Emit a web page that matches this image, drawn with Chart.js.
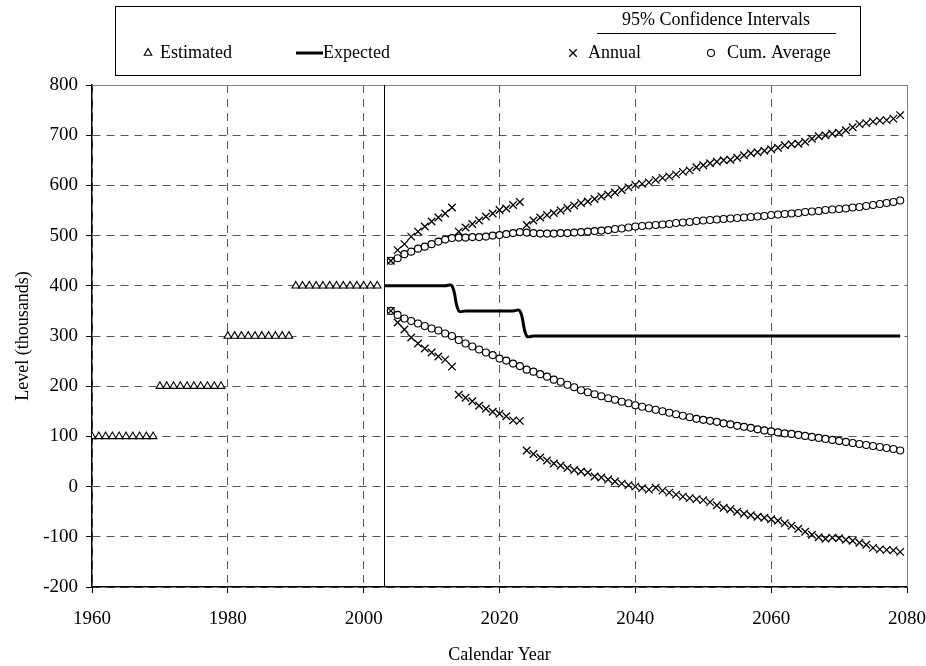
<!DOCTYPE html>
<html>
<head>
<meta charset="utf-8">
<title>Level projection</title>
<script src="https://cdn.jsdelivr.net/npm/chart.js@4.4.0/dist/chart.umd.min.js"></script>
<style>
  html, body { margin: 0; padding: 0; background: #fff; }
  #chart { display: block; }
</style>
</head>
<body>
<canvas id="chart" width="926" height="666"></canvas>
<script>
// ── Data (values in thousands) ──

var estStart  = 1960;
var estValues = [100, 100, 100, 100, 100, 100, 100, 100, 100, 100,
                 200, 200, 200, 200, 200, 200, 200, 200, 200, 200,
                 300, 300, 300, 300, 300, 300, 300, 300, 300, 300,
                 400, 400, 400, 400, 400, 400, 400, 400, 400, 400, 400, 400, 400];

var expStart  = 2003;
var expValues = [400, 400, 400, 400, 400, 400, 400, 400, 400, 400, 400,
                 350, 350, 350, 350, 350, 350, 350, 350, 350, 350,
                 300, 300, 300, 300, 300, 300, 300, 300, 300, 300,
                 300, 300, 300, 300, 300, 300, 300, 300, 300, 300,
                 300, 300, 300, 300, 300, 300, 300, 300, 300, 300,
                 300, 300, 300, 300, 300, 300, 300, 300, 300, 300,
                 300, 300, 300, 300, 300, 300, 300, 300, 300, 300,
                 300, 300, 300, 300, 300, 300];

var ciStart = 2004;
var annualUpper = [450, 471, 483, 498, 508, 518, 528, 536, 544, 556,
                   508, 516, 523, 530, 538, 544, 551, 554, 561, 567,
                   521, 530, 536, 541, 545, 550, 555, 560, 565, 568,
                   573, 578, 582, 586, 591, 596, 601, 603, 606, 611,
                   615, 618, 622, 627, 630, 636, 640, 644, 647, 650,
                   651, 655, 660, 664, 666, 669, 672, 675, 680, 682,
                   683, 687, 693, 698, 700, 703, 705, 710, 716, 722,
                   724, 727, 729, 730, 733, 740];
var annualLower = [350, 327, 313, 297, 285, 275, 267, 259, 253, 239,
                   183, 177, 170, 161, 155, 149, 145, 140, 132, 131,
                   72, 65, 58, 52, 46, 42, 37, 33, 30, 28,
                   20, 18, 14, 10, 6, 3, 0, -3, -6, -2,
                   -8, -12, -16, -20, -23, -25, -27, -31, -37, -42,
                   -45, -50, -54, -57, -60, -62, -65, -68, -73, -78,
                   -84, -90, -96, -101, -104, -102, -103, -106, -108, -112,
                   -116, -122, -125, -126, -127, -130];
var cumUpper = [450, 455, 463, 468, 474, 478, 483, 488, 492, 495,
                496, 496, 497, 497, 498, 500, 501, 503, 505, 507,
                506, 505, 504, 504, 504, 505, 505, 506, 507, 508,
                509, 510, 511, 513, 514, 516, 518, 519, 520, 521,
                522, 523, 525, 526, 527, 529, 530, 531, 532, 533,
                534, 535, 536, 537, 538, 539, 541, 542, 543, 544,
                545, 547, 548, 549, 551, 552, 553, 554, 556, 557,
                559, 561, 563, 565, 567, 570];
var cumLower = [350, 342, 335, 330, 325, 320, 315, 311, 305, 300,
                292, 285, 279, 273, 267, 262, 255, 251, 245, 240,
                233, 229, 224, 219, 213, 209, 203, 198, 192, 188,
                184, 180, 176, 173, 169, 166, 162, 159, 156, 153,
                150, 147, 144, 141, 138, 135, 133, 131, 129, 126,
                124, 121, 119, 117, 114, 112, 110, 108, 106, 105,
                103, 101, 99, 97, 95, 93, 91, 89, 87, 85,
                83, 81, 79, 77, 75, 72];

var xTicks = [1960, 1980, 2000, 2020, 2040, 2060, 2080];
var yTicks = [-200, -100, 0, 100, 200, 300, 400, 500, 600, 700, 800];
var forecastStart = 2003;

var FONT = '"Liberation Serif", "Times New Roman", serif';

// ── Helpers ──

function _points(start, values) {
  return values.map(function(v, i) { return { x: start + i, y: v }; });
}

function _fixedTicks(list) {
  return function(axis) {
    axis.ticks = list.map(function(v) { return { value: v }; });
  };
}

var TRI   = { pointStyle: 'triangle', radius: 4.4, borderWidth: 1.1, rotation: 0 };
var CROSS = { pointStyle: 'crossRot', radius: 5.3, borderWidth: 1.3, rotation: 0 };
var RING  = { pointStyle: 'circle',   radius: 3.5, borderWidth: 1.1, rotation: 0 };

function _marker(ctx, style, x, y) {
  ctx.save();
  ctx.fillStyle = '#fff';
  ctx.strokeStyle = '#000';
  ctx.lineWidth = style.borderWidth;
  Chart.helpers.drawPoint(ctx, style, x, y);
  ctx.restore();
}

// Plot frame, forecast divider and the boxed legend
var chartDecor = {
  id: 'chartDecor',
  beforeDatasetsDraw: function(chart) {
    var ctx = chart.ctx, a = chart.chartArea;
    ctx.save();
    ctx.lineWidth = 1;
    ctx.strokeStyle = '#808080';
    ctx.beginPath();
    ctx.moveTo(a.left, Math.round(a.top) + 0.5);
    ctx.lineTo(Math.round(a.right) + 0.5, Math.round(a.top) + 0.5);
    ctx.lineTo(Math.round(a.right) + 0.5, a.bottom);
    ctx.stroke();

    var fx = Math.round(chart.scales.x.getPixelForValue(forecastStart)) + 0.5;
    ctx.strokeStyle = '#000';
    ctx.beginPath();
    ctx.moveTo(fx, a.top);
    ctx.lineTo(fx, a.bottom);
    ctx.stroke();
    ctx.restore();
  },
  afterDraw: function(chart) {
    var ctx = chart.ctx;
    var rowY = 53;
    ctx.save();
    ctx.strokeStyle = '#000';
    ctx.lineWidth = 1;
    ctx.strokeRect(115.5, 6.5, 745, 69);

    ctx.font = '18px ' + FONT;
    ctx.fillStyle = '#000';
    ctx.textBaseline = 'middle';
    ctx.textAlign = 'center';
    ctx.fillText('95% Confidence Intervals', 716, 20);
    ctx.beginPath();
    ctx.moveTo(597, 33.5);
    ctx.lineTo(836, 33.5);
    ctx.stroke();

    ctx.textAlign = 'left';
    _marker(ctx, TRI, 148, rowY);
    ctx.fillText('Estimated', 160, rowY);

    ctx.lineWidth = 3;
    ctx.beginPath();
    ctx.moveTo(296, rowY);
    ctx.lineTo(323, rowY);
    ctx.stroke();
    ctx.fillText('Expected', 323, rowY);

    _marker(ctx, CROSS, 573, rowY);
    ctx.fillText('Annual', 588, rowY);

    _marker(ctx, RING, 711, rowY);
    ctx.fillText('Cum. Average', 727, rowY);
    ctx.restore();
  }
};

function _markerSet(label, start, values, style, order) {
  return {
    label: label,
    data: _points(start, values),
    showLine: false,
    pointStyle: style.pointStyle,
    pointRadius: style.radius,
    pointBorderWidth: style.borderWidth,
    pointBorderColor: '#000',
    pointBackgroundColor: '#fff',
    order: order
  };
}

Chart.defaults.font.family = FONT;
Chart.defaults.color = '#000';

var axisGrid = { color: '#555', lineWidth: 1, tickLength: 6, tickColor: '#000', tickWidth: 1, tickBorderDash: [] };

new Chart(document.getElementById('chart'), {
  type: 'scatter',
  data: {
    datasets: [
      _markerSet('Estimated', estStart, estValues, TRI, 5),
      {
        label: 'Expected',
        data: _points(expStart, expValues),
        showLine: true,
        borderColor: '#000',
        borderWidth: 3,
        tension: 0.4,
        pointRadius: 0,
        order: 4
      },
      _markerSet('Cum. Average upper', ciStart, cumUpper, RING, 3),
      _markerSet('Cum. Average lower', ciStart, cumLower, RING, 3),
      _markerSet('Annual upper', ciStart, annualUpper, CROSS, 1),
      _markerSet('Annual lower', ciStart, annualLower, CROSS, 1)
    ]
  },
  options: {
    responsive: false,
    animation: false,
    events: [],
    layout: { padding: { top: 85, right: 19, bottom: 0, left: 0 } },
    plugins: {
      legend: { display: false },
      tooltip: { enabled: false }
    },
    scales: {
      x: {
        type: 'linear',
        min: 1960,
        max: 2080,
        afterBuildTicks: _fixedTicks(xTicks),
        afterFit: function(s) {
          s.height = 79;
          s.paddingLeft = 0;
          s.paddingRight = 0;
        },
        grid: axisGrid,
        border: { display: true, color: '#000', width: 1.5, dash: [8, 6] },
        ticks: {
          font: { size: 19 }, padding: 15, maxRotation: 0, autoSkip: false,
          callback: function(v) { return String(v); }
        },
        title: { display: true, text: 'Calendar Year', font: { size: 18 }, padding: { top: 0, bottom: 0 } }
      },
      y: {
        type: 'linear',
        min: -200,
        max: 800,
        afterBuildTicks: _fixedTicks(yTicks),
        afterFit: function(s) { s.width = 92; },
        grid: axisGrid,
        border: { display: true, color: '#000', width: 1.5, dash: [8, 6] },
        ticks: { font: { size: 19 }, padding: 8, autoSkip: false },
        title: { display: true, text: 'Level (thousands)', font: { size: 18 }, padding: { top: 12, bottom: 0 } }
      }
    }
  },
  plugins: [chartDecor]
});
</script>
</body>
</html>
